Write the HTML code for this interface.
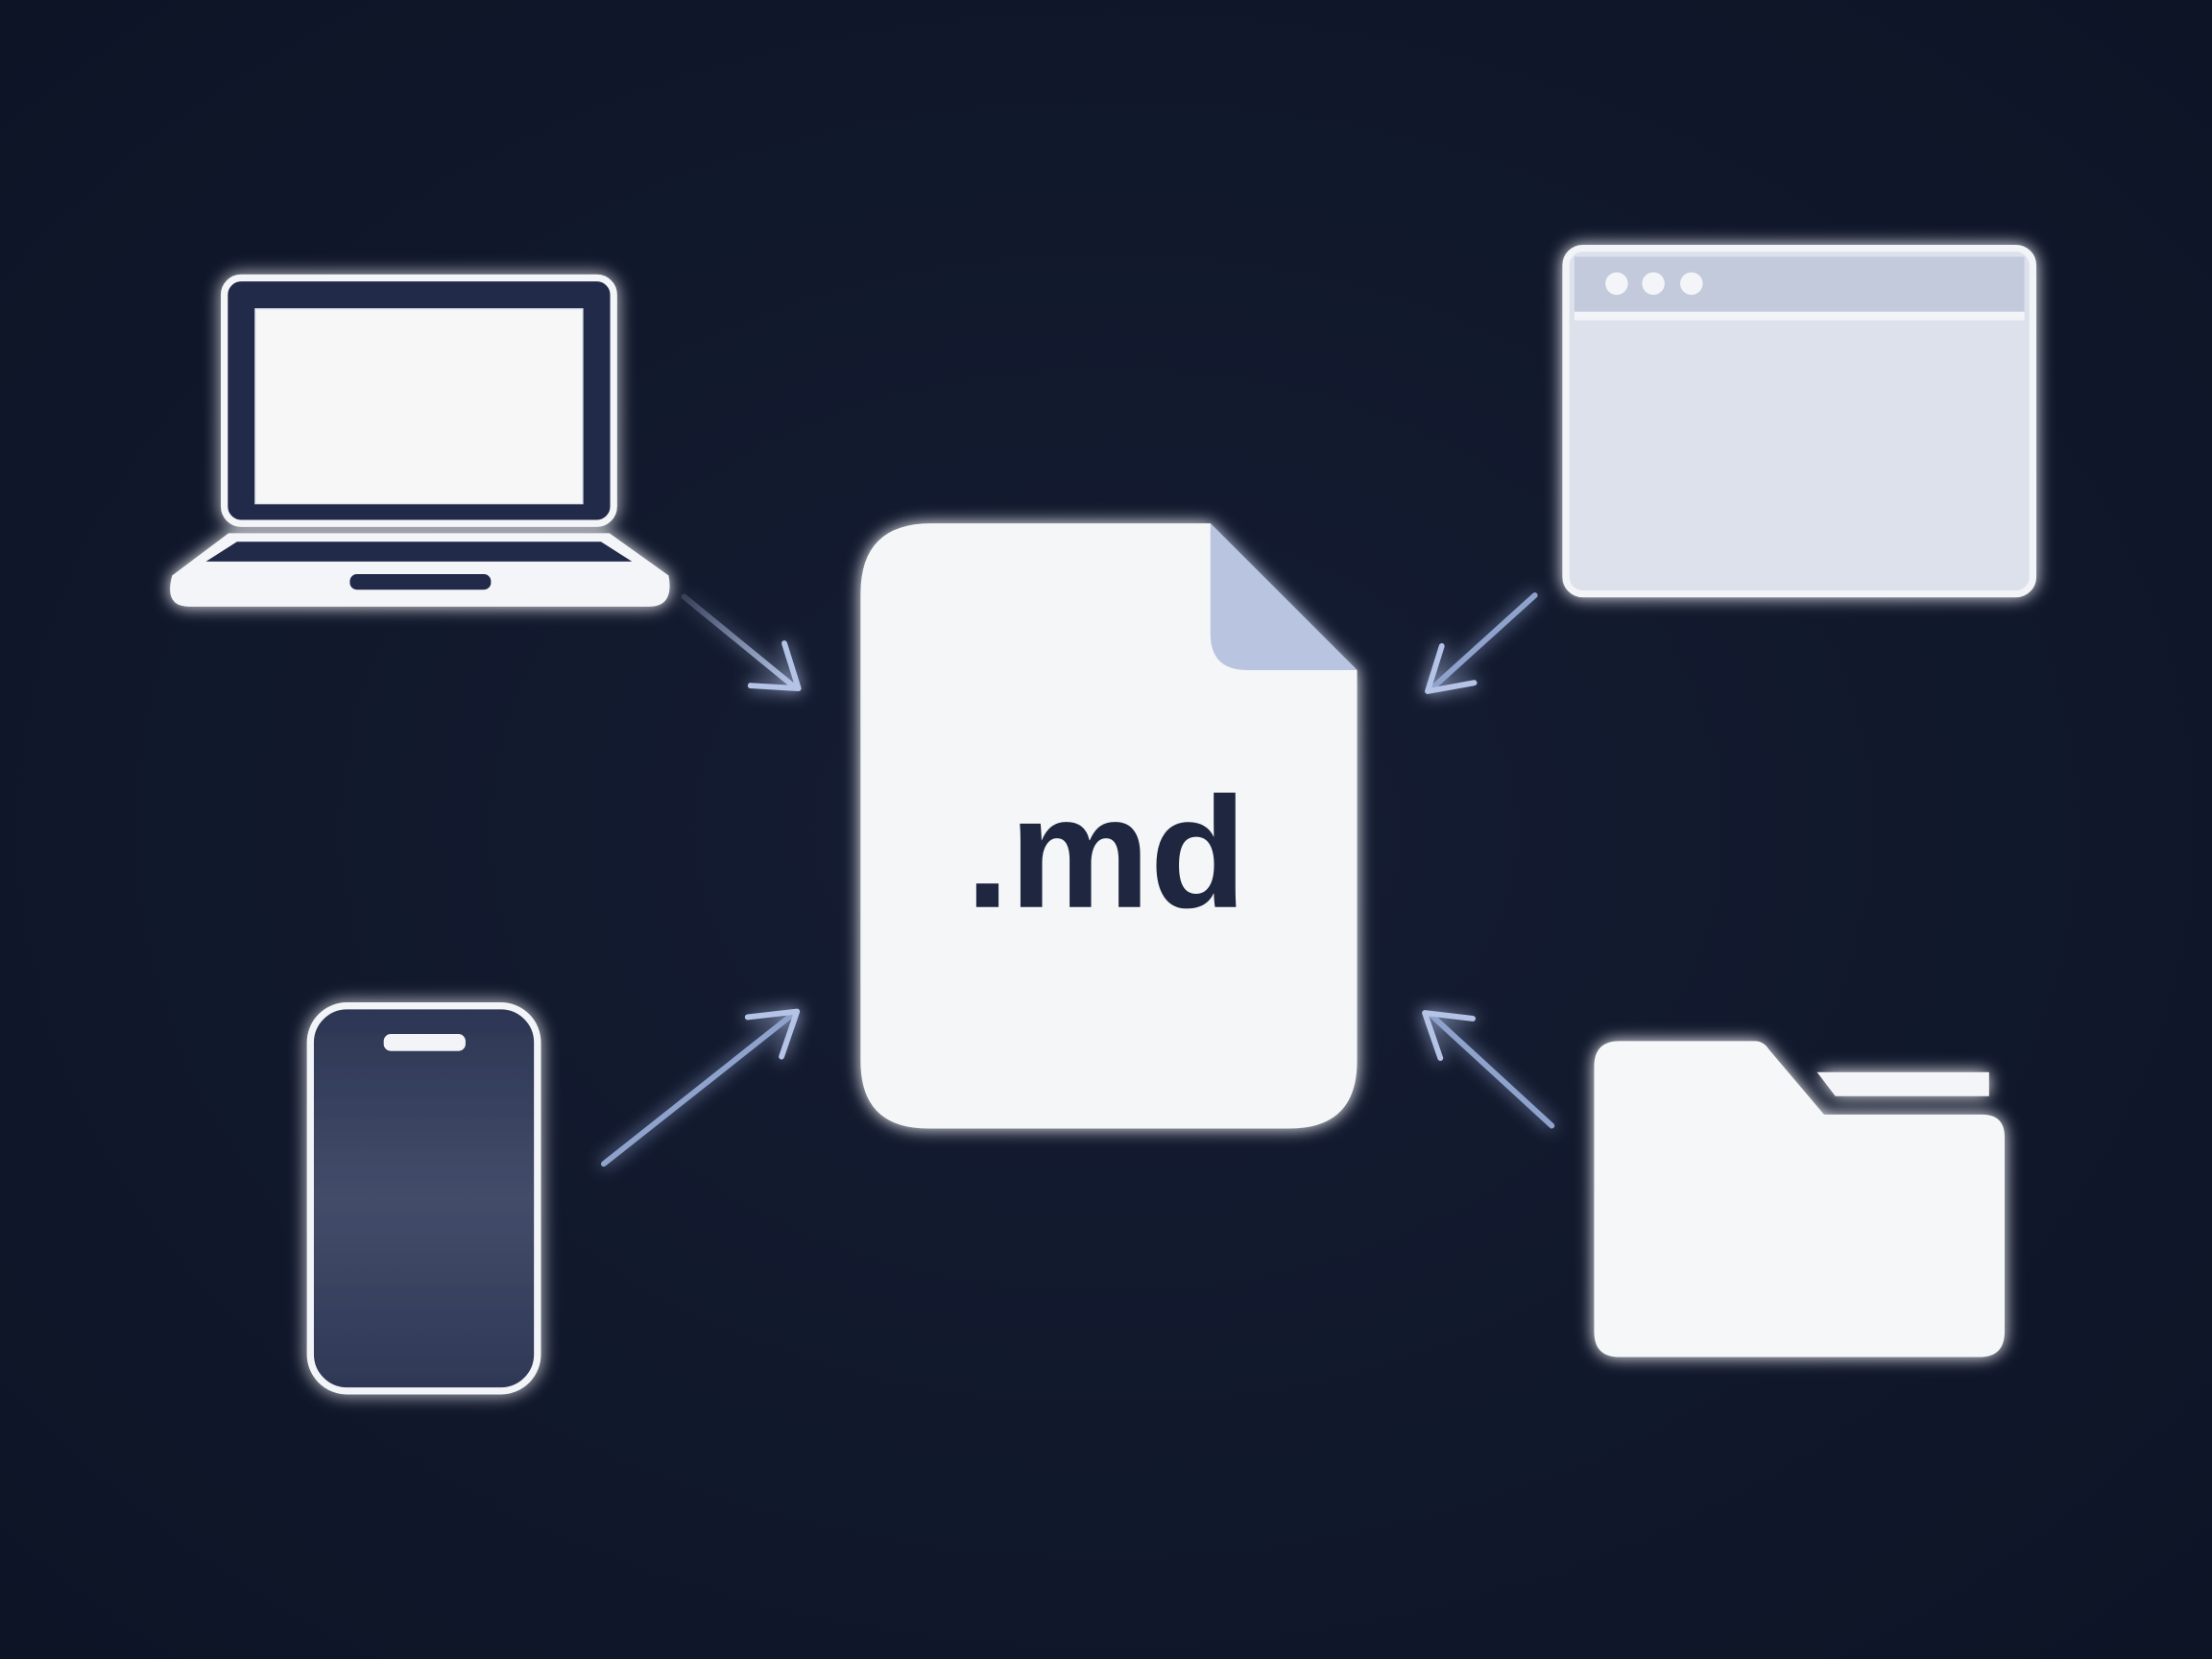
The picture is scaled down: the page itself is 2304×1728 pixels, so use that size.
<!DOCTYPE html>
<html><head><meta charset="utf-8"><style>
html,body{margin:0;padding:0;background:#111a2d;}
svg{display:block;}
.md{font-family:"Liberation Sans","DejaVu Sans",sans-serif;font-weight:bold;font-size:112px;}
</style></head><body>
<svg width="2304" height="1728" viewBox="0 0 1568 1176" xmlns="http://www.w3.org/2000/svg">
<defs>
<radialGradient id="bg" cx="50%" cy="50%" r="70%">
<stop offset="0" stop-color="#151d33"/><stop offset="1" stop-color="#0d1426"/>
</radialGradient>
<filter id="glow" x="-20%" y="-20%" width="140%" height="140%">
<feGaussianBlur in="SourceGraphic" stdDeviation="6" result="b"/>
<feMerge><feMergeNode in="b"/><feMergeNode in="SourceGraphic"/></feMerge>
</filter>
<linearGradient id="ph" x1="0" y1="0" x2="0" y2="1">
<stop offset="0" stop-color="#2c3654"/><stop offset="0.5" stop-color="#434d69"/><stop offset="1" stop-color="#2e3856"/>
</linearGradient>
<linearGradient id="a1" x1="0" y1="0" x2="1" y2="1"><stop offset="0" stop-color="#a9b9dd" stop-opacity="0.2"/><stop offset="1" stop-color="#b4c3e6"/></linearGradient>
</defs>
<rect width="1568" height="1176" fill="url(#bg)"/>

<!-- Laptop -->
<g filter="url(#glow)">
<rect x="159" y="197" width="276" height="174" rx="12" fill="#222c48" stroke="#f4f5f8" stroke-width="5"/>
<rect x="181" y="219" width="232" height="138" fill="#f7f7f8" stroke="#dfe3ec" stroke-width="1"/>
<path d="M162 378 L432 378 L474 408 Q478 430 460 430 L134 430 Q116 430 122 408 Z" fill="#f4f5f8"/>
<path d="M168 384 L426 384 L448 398 L146 398 Z" fill="#222c48"/>
<rect x="248" y="407" width="100" height="11" rx="5" fill="#222c48"/>
</g>

<!-- Browser -->
<g filter="url(#glow)">
<rect x="1110" y="176" width="331" height="245" rx="12" fill="#dde1ec" stroke="#f2f4f8" stroke-width="5"/>
<rect x="1116" y="182" width="319" height="39" fill="#c2cadc"/>
<rect x="1116" y="221" width="319" height="6" fill="#f2f4f8"/>
<circle cx="1146" cy="201" r="8" fill="#f4f5f8"/>
<circle cx="1172" cy="201" r="8" fill="#f4f5f8"/>
<circle cx="1199" cy="201" r="8" fill="#f4f5f8"/>
</g>

<!-- Document -->
<g filter="url(#glow)">
<path d="M660 371 L858 371 L962 475 L962 752 Q962 800 914 800 L658 800 Q610 800 610 752 L610 421 Q610 371 660 371 Z" fill="#f5f6f8"/>
<path d="M858 371 L962 475 L884 475 Q858 475 858 449 Z" fill="#b8c4e0"/>
</g>
<text x="784" y="643" text-anchor="middle" class="md" fill="#1e2640">.md</text>

<!-- Phone -->
<g filter="url(#glow)">
<rect x="220" y="713" width="161" height="273" rx="26" fill="url(#ph)" stroke="#f2f4f8" stroke-width="5"/>
<rect x="272" y="733" width="58" height="12" rx="5" fill="#f2f4f8"/>
</g>

<!-- Folder -->
<g filter="url(#glow)">
<path d="M1288 760 L1410 760 L1410 777 L1301 777 Z" fill="#f4f5f8"/>
<path d="M1148 738 L1244 738 Q1250 738 1254 744 L1293 790 L1405 790 Q1421 790 1421 806 L1421 944 Q1421 962 1403 962 L1148 962 Q1130 962 1130 944 L1130 756 Q1130 738 1148 738 Z" fill="#f6f7f9"/>
</g>

<!-- Arrows -->
<g stroke="#b4c3e6" stroke-width="4" fill="none" stroke-linecap="round" stroke-linejoin="round" filter="url(#glow)">
<line x1="485" y1="423" x2="562" y2="486" stroke="url(#a1)"/>
<path d="M556 456 L566 488 L532 486"/>
<line x1="428" y1="825" x2="562" y2="719" stroke="#8fa2cc"/>
<path d="M530 721 L565 717 L554 749"/>
<line x1="1088" y1="422" x2="1015" y2="488" stroke="#8fa2cc"/>
<path d="M1022 458 L1012 490 L1045 484"/>
<line x1="1100" y1="798" x2="1015" y2="720" stroke="#8fa2cc"/>
<path d="M1044 722 L1010 718 L1021 750"/>
</g>
</svg>
</body></html>
